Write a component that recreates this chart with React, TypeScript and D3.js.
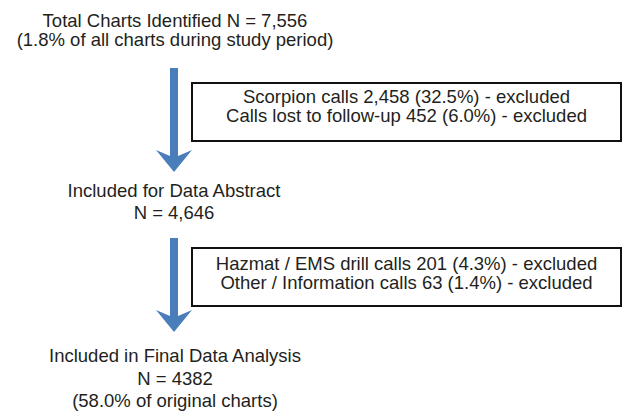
import React from "react";
import * as d3 from "d3";

const WIDTH = 623;
const HEIGHT = 413;

const topLines = ["Total Charts Identified N = 7,556", "(1.8% of all charts during study period)"];
const midLines = ["Included for Data Abstract", "N = 4,646"];
const bottomLines = ["Included in Final Data Analysis", "N = 4382", "(58.0% of original charts)"];
const exclusion1 = ["Scorpion calls 2,458 (32.5%) - excluded", "Calls lost to follow-up 452 (6.0%) - excluded"];
const exclusion2 = ["Hazmat / EMS drill calls 201 (4.3%) - excluded", "Other / Information calls 63 (1.4%) - excluded"];

const BLUE = "#4a7ebb";
const TEXT = "#231f20";
const FONT = "'Liberation Sans', Arial, sans-serif";
const FS = 18.5;

// vertical arrow: shaft top, head start, tip
const arrowPath = (cx: number, top: number, headY: number, tip: number) => {
  const p = d3.path();
  const sw = 4;
  const hw = 18;
  p.moveTo(cx - sw, top);
  p.lineTo(cx + sw, top);
  p.lineTo(cx + sw, headY + 6);
  p.lineTo(cx + hw, headY);
  p.lineTo(cx, tip);
  p.lineTo(cx - hw, headY);
  p.lineTo(cx - sw, headY + 6);
  p.closePath();
  return p.toString();
};

const TextBlock = ({ lines, x, y, gap }: { lines: string[]; x: number; y: number; gap: number }) => (
  <text x={x} y={y} textAnchor="middle" fontFamily={FONT} fontSize={FS} fill={TEXT}>
    {lines.map((l, i) => (
      <tspan key={i} x={x} y={y + i * gap}>
        {l}
      </tspan>
    ))}
  </text>
);

const App = () => {
  const cx = 174;
  const boxX = 192;
  const boxW = 429;
  return (
    <svg width={WIDTH} height={HEIGHT} style={{ position: "absolute", left: 0, top: 0, background: "#fff" }}>
      <TextBlock lines={topLines} x={cx + 1} y={27} gap={19} />

      <path d={arrowPath(cx, 68, 150, 172)} fill={BLUE} />
      <rect x={boxX} y={83} width={boxW} height={58} fill="#fff" stroke="#111" strokeWidth={2} />
      <TextBlock lines={exclusion1} x={boxX + boxW / 2} y={103} gap={19} />

      <TextBlock lines={midLines} x={cx} y={197} gap={22} />

      <path d={arrowPath(cx, 238, 310, 332)} fill={BLUE} />
      <rect x={boxX} y={248} width={boxW} height={58} fill="#fff" stroke="#111" strokeWidth={2} />
      <TextBlock lines={exclusion2} x={boxX + boxW / 2} y={270} gap={19} />

      <TextBlock lines={bottomLines} x={cx + 1} y={362} gap={22.5} />
    </svg>
  );
};

export default App;
